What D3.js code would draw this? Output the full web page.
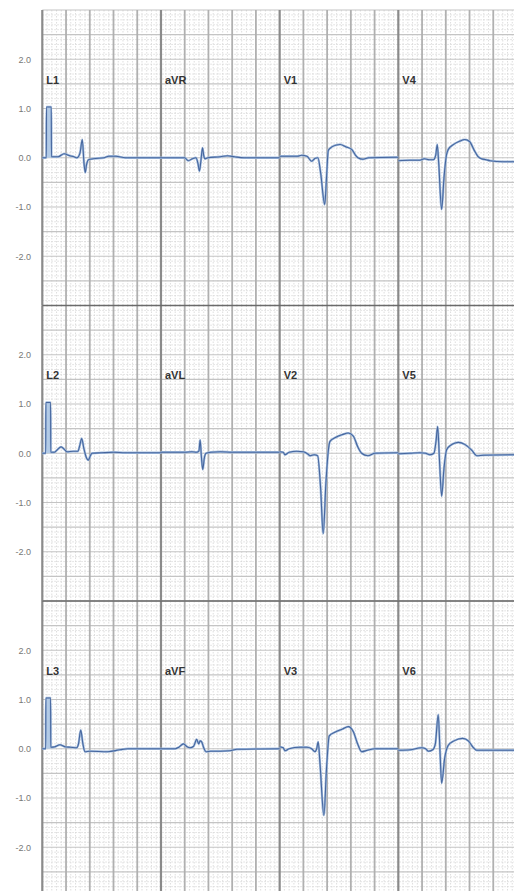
<!DOCTYPE html>
<html>
<head>
<meta charset="utf-8">
<script src="https://cdn.jsdelivr.net/npm/d3@7"></script>
<style>
  html, body { margin: 0; padding: 0; background: #fff; }
  svg { display: block; }
  .ylab text { font-family: "Liberation Sans", Arial, sans-serif; font-size: 9px; fill: #777; }
  .lead-name { font-family: "Liberation Sans", Arial, sans-serif; font-size: 11px; font-weight: bold; fill: #333; }
</style>
</head>
<body>
<script>
// lead layout, one row per strip
const leadRows = [
  ["L1", "aVR", "V1", "V4"],
  ["L2", "aVL", "V2", "V5"],
  ["L3", "aVF", "V3", "V6"]
];
const yTicks = [2, 1, 0, -1, -2];

// traces: [ms from lead start, mV]
const L1 = [[0,0],[34,0],[35,1.03],[76,1.03],[77,0.02],[133,0.02],[183,0.08],[233,0.04],[267,0.02],[292,0],[318,0.1],[337,0.37],[351,-0.1],[362,-0.3],[372,-0.15],[389,-0.04],[430,-0.02],[520,0],[560,0.03],[620,0.03],[700,0],[1000,0]];
const aVR = [[0,0],[200,0],[230,-0.06],[265,-0.02],[295,0],[312,-0.12],[324,-0.27],[337,-0.05],[350,0.2],[360,0.05],[371,-0.02],[395,0],[500,0.02],[560,0.04],[620,0.02],[700,0],[1000,0]];
const V1 = [[0,0.03],[150,0.03],[185,0.05],[230,0.03],[270,-0.07],[300,-0.01],[323,0],[345,-0.3],[380,-0.95],[395,-0.4],[410,0.15],[440,0.22],[480,0.26],[509,0.27],[560,0.22],[607,0.17],[640,0.05],[660,0],[702,-0.03],[750,0],[1000,0.01]];
const V4 = [[0,-0.06],[100,-0.05],[180,-0.05],[220,-0.02],[260,-0.04],[295,-0.04],[315,0.05],[328,0.27],[340,-0.1],[365,-1.05],[385,-0.4],[405,0.05],[421,0.17],[460,0.26],[520,0.34],[561,0.37],[600,0.33],[640,0.15],[670,0.03],[700,-0.02],[740,-0.04],[772,-0.06],[881,-0.08],[1000,-0.08]];

const L2 = [[0,0],[29,0],[30,1.03],[70,1.03],[71,0.02],[100,0.02],[130,0.08],[158,0.13],[185,0.08],[208,0.03],[260,0.04],[300,0.04],[315,0.15],[332,0.3],[350,0.1],[370,-0.08],[388,-0.14],[405,-0.05],[419,0],[500,0.01],[600,0.02],[700,0.01],[1000,0.01]];
const aVL = [[0,0.02],[200,0.02],[260,0.03],[300,0.02],[320,0.05],[330,0.27],[340,-0.05],[352,-0.33],[365,-0.1],[380,0],[420,0.02],[500,0.03],[600,0.02],[1000,0.02]];
const V2 = [[0,0.03],[30,0.02],[45,-0.03],[80,0.02],[143,0.04],[200,0.03],[240,-0.02],[255,-0.05],[290,-0.03],[320,-0.05],[345,-0.7],[367,-1.63],[390,-0.6],[410,0.05],[424,0.24],[470,0.32],[530,0.38],[578,0.41],[620,0.35],[660,0.12],[691,0],[744,-0.05],[803,0],[1000,0.01]];
const V5 = [[0,-0.01],[100,0],[182,0.01],[230,0],[266,-0.03],[300,0],[318,0.25],[331,0.54],[348,-0.2],[365,-0.87],[385,-0.3],[407,0.07],[440,0.16],[480,0.21],[505,0.22],[560,0.18],[620,0.06],[660,-0.05],[720,-0.04],[1000,-0.03]];

const L3 = [[0,0],[29,0],[30,1.03],[70,1.03],[71,0.03],[107,0.04],[149,0.08],[191,0.04],[240,0.03],[290,0.02],[305,0.1],[324,0.38],[342,0.1],[360,-0.06],[400,-0.05],[550,-0.06],[655,-0.02],[720,0],[1000,0]];
const aVF = [[0,0],[120,0],[150,0.03],[189,0.1],[220,0.04],[245,0.02],[275,0.05],[301,0.19],[318,0.1],[330,0.16],[343,0.14],[360,0.02],[379,-0.06],[420,-0.05],[500,-0.05],[581,-0.04],[640,-0.01],[1000,0]];
const V3 = [[0,0.04],[30,0.02],[45,-0.04],[80,0],[171,0.03],[230,0.03],[270,0],[297,-0.06],[312,0],[325,0.14],[340,-0.3],[373,-1.35],[395,-0.4],[418,0.26],[470,0.34],[530,0.4],[578,0.45],[620,0.35],[660,0.08],[691,-0.06],[740,-0.03],[803,0],[1000,0]];
const V6 = [[0,-0.03],[100,-0.02],[196,0.02],[230,0],[252,-0.05],[290,-0.02],[312,0.1],[336,0.69],[352,-0.1],[365,-0.7],[390,-0.2],[421,0.07],[470,0.16],[542,0.21],[590,0.16],[630,0.03],[660,-0.03],[1000,-0.03]];

const traces = { L1, aVR, V1, V4, L2, aVL, V2, V5, L3, aVF, V3, V6 };
const calLeads = ["L1", "L2", "L3"];

const width = 514, height = 891;
const leadMs = 1000;
const top0 = 10, rowH = 295.5;

const svg = d3.select("body").append("svg")
    .attr("width", width).attr("height", height);

let x = d3.scaleLinear().domain([0, 4 * leadMs]).range([42.3, 517]);

function rowScale(r) {
    return d3.scaleLinear().domain([-3, 3]).range([top0 + (r + 1) * rowH, top0 + r * rowH]);
}

const grid = svg.append("g");
const xLeft = x(0), xRight = width;

leadRows.forEach(function (names, r) {
    let y = rowScale(r);
    let g = grid.append("g");

    // minor grid
    g.selectAll(".hmin").data(d3.range(-30, 31).filter(d => d % 5 != 0).map(d => d / 10))
        .join("line")
        .attr("x1", xLeft).attr("x2", xRight)
        .attr("y1", d => y(d)).attr("y2", d => y(d))
        .attr("stroke", "#d6d6d6").attr("stroke-width", 0.8).attr("stroke-dasharray", "1.5,1.5");
    g.selectAll(".vmin").data(d3.range(0, 4 * leadMs + 1, 40).filter(d => d % 200 != 0))
        .join("line")
        .attr("x1", d => x(d)).attr("x2", d => x(d))
        .attr("y1", y(3)).attr("y2", y(-3))
        .attr("stroke", "#d6d6d6").attr("stroke-width", 0.8).attr("stroke-dasharray", "1.5,1.5");

    // major grid
    g.selectAll(".hmaj").data(d3.range(-6, 7).map(d => d / 2))
        .join("line")
        .attr("x1", xLeft).attr("x2", xRight)
        .attr("y1", d => y(d)).attr("y2", d => y(d))
        .attr("stroke", "#c4c4c4").attr("stroke-width", 1.2);
    g.selectAll(".vmaj").data(d3.range(0, 4 * leadMs + 1, 200))
        .join("line")
        .attr("x1", d => x(d)).attr("x2", d => x(d))
        .attr("y1", y(3)).attr("y2", y(-3))
        .attr("stroke", d => d % leadMs == 0 ? "#8a8a8a" : "#b0b0b0")
        .attr("stroke-width", d => d % leadMs == 0 ? 2.2 : 1.8);

    // y labels
    svg.append("g")
        .attr("class", "ylab")
        .attr("transform", "translate(34,0)")
        .call(d3.axisLeft(y).tickValues(yTicks).tickSize(0).tickPadding(3).tickFormat(d => d.toFixed(1)))
        .call(a => a.select(".domain").remove());
});

// row separators
grid.selectAll(".rowsep").data([1, 2])
    .join("line")
    .attr("x1", xLeft).attr("x2", xRight)
    .attr("y1", d => top0 + d * rowH).attr("y2", d => top0 + d * rowH)
    .attr("stroke", "#6a6a6a").attr("stroke-width", 1.6);

const traceG = svg.append("g");
leadRows.forEach(function (names, r) {
    let y = rowScale(r);
    names.forEach(function (name, c) {
        let off = c * leadMs;
        let data = traces[name];
        let line = d3.line()
            .x(d => x(d[0] + off))
            .y(d => y(d[1]))
            .curve(d3.curveMonotoneX);

        if (calLeads.includes(name)) {
            let pulse = data.filter(d => d[0] <= 80);
            traceG.append("path")
                .datum(pulse)
                .attr("fill", "#b3cbe6")
                .attr("d", d3.area().x(d => x(d[0] + off)).y0(y(0)).y1(d => y(d[1])));
        }

        traceG.append("path")
            .datum(data)
            .attr("fill", "none")
            .attr("stroke", "#a2bcde")
            .attr("stroke-width", 2.3)
            .attr("stroke-linejoin", "round")
            .attr("d", line);
        traceG.append("path")
            .datum(data)
            .attr("fill", "none")
            .attr("stroke", "#46669e")
            .attr("stroke-width", 1.1)
            .attr("stroke-linejoin", "round")
            .attr("d", line);

        svg.append("text")
            .attr("class", "lead-name")
            .attr("x", x(off) + 4)
            .attr("y", y(1.5))
            .text(name);
    });
});
</script>
</body>
</html>
